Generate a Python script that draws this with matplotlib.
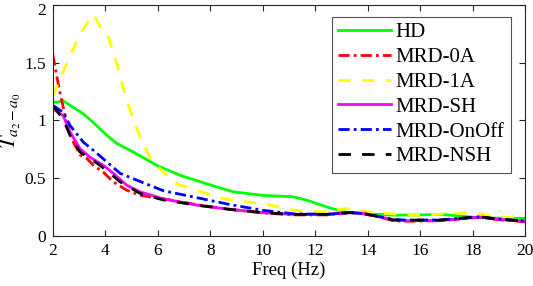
import matplotlib
matplotlib.use("Agg")
import matplotlib.pyplot as plt
import matplotlib.transforms as mtransforms

plt.rcParams['font.family'] = ['Liberation Serif', 'DejaVu Serif']
plt.rcParams['mathtext.fontset'] = 'stix'

# HD
f_hd = [2.0, 2.2, 2.4, 2.66, 3.17, 3.55, 4.06, 4.44, 5.07, 5.96, 6.85, 7.86, 8.88, 10.0, 11.16, 11.67, 12.43, 13.07, 13.7, 14.97, 16.0, 16.76, 17.4, 18.28, 19.0, 20.0]
v_hd = [1.155, 1.16, 1.17, 1.13, 1.056, 0.98, 0.87, 0.80, 0.725, 0.61, 0.524, 0.45, 0.38, 0.35, 0.337, 0.308, 0.25, 0.207, 0.193, 0.178, 0.18, 0.185, 0.173, 0.155, 0.152, 0.15]

# MRD-0A
f_0a = [2.0, 2.25, 2.53, 2.79, 3.04, 3.3, 3.55, 3.93, 4.31, 4.82, 5.33, 6.34, 7.6, 8.87, 10.15, 11.16, 12.43, 13.3, 13.82, 14.46, 14.97, 15.48, 16.76, 17.77, 18.28, 18.92, 20.0]
v_0a = [1.57, 1.27, 0.98, 0.81, 0.70, 0.67, 0.61, 0.55, 0.466, 0.394, 0.35, 0.315, 0.265, 0.225, 0.195, 0.18, 0.18, 0.2, 0.19, 0.16, 0.13, 0.125, 0.13, 0.15, 0.16, 0.14, 0.12]

# MRD-1A
f_1a = [2.0, 2.53, 3.04, 3.55, 3.93, 4.12, 4.44, 4.82, 5.33, 5.7, 6.21, 6.72, 7.48, 8.5, 9.5, 10.0, 10.78, 11.4, 12.3, 13.2, 13.96, 14.7, 15.7, 16.1, 17.1, 18.0, 19.0, 20.0]
v_1a = [1.21, 1.49, 1.75, 1.92, 1.76, 1.72, 1.49, 1.17, 0.85, 0.68, 0.55, 0.45, 0.394, 0.32, 0.29, 0.28, 0.24, 0.215, 0.207, 0.236, 0.207, 0.193, 0.18, 0.178, 0.193, 0.2, 0.164, 0.15]

# MRD-SH
f_sh = [2.0, 2.4, 2.66, 3.04, 3.42, 3.93, 4.31, 4.82, 5.33, 6.21, 7.48, 8.75, 10.0, 11.16, 12.43, 13.3, 13.82, 14.46, 14.97, 15.48, 16.76, 17.77, 18.28, 18.92, 20.0]
v_sh = [1.10, 1.04, 0.90, 0.754, 0.68, 0.61, 0.54, 0.437, 0.38, 0.32, 0.265, 0.228, 0.2, 0.185, 0.185, 0.2, 0.193, 0.164, 0.138, 0.13, 0.132, 0.152, 0.162, 0.142, 0.125]

# MRD-OnOff
f_oo = [2.0, 2.4, 2.66, 3.17, 3.55, 4.06, 4.57, 5.33, 6.21, 7.48, 8.75, 10.0, 11.16, 12.43, 13.3, 13.82, 14.46, 14.97, 15.48, 16.76, 17.77, 18.28, 18.92, 20.0]
v_oo = [1.13, 1.07, 0.955, 0.81, 0.74, 0.64, 0.54, 0.47, 0.39, 0.33, 0.27, 0.22, 0.19, 0.185, 0.2, 0.193, 0.164, 0.14, 0.135, 0.137, 0.155, 0.164, 0.145, 0.128]

# MRD-NSH
f_nsh = [2.0, 2.4, 2.66, 3.04, 3.42, 3.8, 4.19, 4.57, 5.33, 6.21, 7.48, 8.75, 10.0, 11.16, 12.43, 13.3, 13.82, 14.46, 14.97, 15.48, 16.76, 17.77, 18.28, 18.92, 20.0]
v_nsh = [1.13, 1.01, 0.87, 0.725, 0.67, 0.61, 0.54, 0.466, 0.366, 0.31, 0.265, 0.228, 0.2, 0.185, 0.185, 0.2, 0.193, 0.164, 0.135, 0.135, 0.135, 0.155, 0.164, 0.144, 0.127]

labels = ['HD', 'MRD-0A', 'MRD-1A', 'MRD-SH', 'MRD-OnOff', 'MRD-NSH']
x_ticks = [2, 4, 6, 8, 10, 12, 14, 16, 18, 20]
y_ticks = [0, 0.5, 1, 1.5, 2]
y_ticklabels = ['0', '0.5', '1', '1.5', '2']

fig = plt.figure(figsize=(5.33, 2.86), dpi=100)
ax = fig.add_axes([0.0989, 0.1759, 0.8867, 0.8066])

lw = 2.0
dashdot = (0, (4, 1.5, 1, 1.5))
dashed = (0, (4.5, 4))
ax.plot(f_hd, v_hd, color='#00ff00', lw=lw, ls='-', label=labels[0])
ax.plot(f_0a, v_0a, color='#ff0000', lw=lw, ls=dashdot, label=labels[1])
ax.plot(f_1a, v_1a, color='#ffff00', lw=lw, ls=dashed, label=labels[2])
ax.plot(f_sh, v_sh, color='#ff00ff', lw=lw, ls='-', label=labels[3])
ax.plot(f_oo, v_oo, color='#0000ff', lw=lw, ls=dashdot, label=labels[4])
ax.plot(f_nsh, v_nsh, color='#000000', lw=lw, ls=dashed, label=labels[5])

ax.set_xlim(2, 20)
ax.set_ylim(0, 2)
ax.set_xticks(x_ticks)
ax.set_yticks(y_ticks)
ax.set_yticklabels(y_ticklabels)
ax.tick_params(direction='in', top=True, right=True, length=4, width=0.8,
               labelsize=12.5, colors='#262626', labelcolor='black', pad=5)
for s in ax.spines.values():
    s.set_color('#262626')
    s.set_linewidth(0.8)

# nudge the top y tick label down slightly so it stays inside the figure
top_lbl = ax.get_yticklabels()[-1]
top_lbl.set_transform(top_lbl.get_transform() +
                      mtransforms.ScaledTranslation(0, -3 / 72, fig.dpi_scale_trans))

ax.set_xlabel('Freq (Hz)', fontsize=13.5, labelpad=2)
ax.set_ylabel(r'$T_{a_2-a_0}$', fontsize=16, labelpad=1)

leg = ax.legend(loc='upper right', bbox_to_anchor=(0.969, 0.95), borderaxespad=0,
                fontsize=15, handlelength=2.55, handletextpad=0.2, labelspacing=0.25,
                fancybox=False, frameon=True, borderpad=0.3)
leg.get_frame().set_edgecolor('#262626')
leg.get_frame().set_linewidth(0.8)

fig.savefig('out.png', dpi=100)
